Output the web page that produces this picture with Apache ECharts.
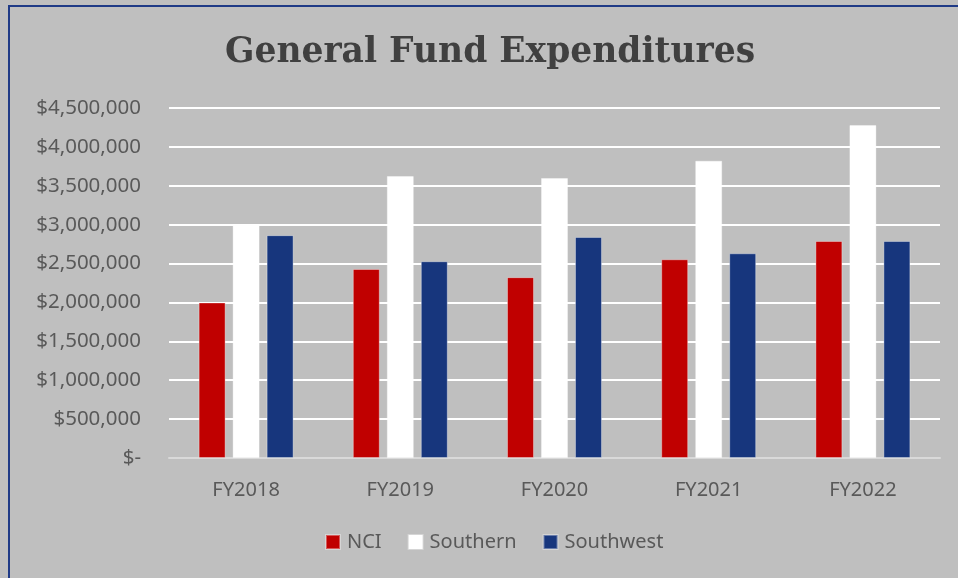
<!DOCTYPE html>
<html><head><meta charset="utf-8">
<script src="https://cdn.jsdelivr.net/npm/echarts@6/dist/echarts.min.js"></script>
<style>
html,body{margin:0;padding:0;background:#BFBFBF;}
#frame{position:absolute;left:8px;top:5px;width:960px;height:580px;border-left:2px solid #1F3A86;border-top:2px solid #1F3A86;box-sizing:border-box;}
#main{position:absolute;left:0;top:0;width:958px;height:578px;}
</style></head>
<body>
<div id="frame"></div>
<div id="main"></div>
<script>
const categories = ['FY2018','FY2019','FY2020','FY2021','FY2022'];
const seriesNames = ['NCI','Southern','Southwest'];
const nciValues = [2000000, 2430000, 2325000, 2555000, 2790000];
const southernValues = [3005000, 3625000, 3600000, 3822000, 4280000];
const southwestValues = [2865000, 2530000, 2842000, 2632000, 2790000];
const colors = ['#C00000', '#FFFFFF', '#17367D'];

function fmt(v){
  if (v === 0) return '$-';
  return '$' + v.toString().replace(/\B(?=(\d{3})+(?!\d))/g, ',');
}

const chart = echarts.init(document.getElementById('main'), null, {renderer:'canvas'});
const dataSets = [nciValues, southernValues, southwestValues];
chart.setOption({
  backgroundColor: 'transparent',
  animation: false,
  title: {
    text: 'General Fund Expenditures',
    left: 220, top: 31,
    textStyle: {fontFamily: 'DejaVu Serif', fontWeight: 'bold', fontSize: 34.5, color: '#404040'}
  },
  legend: {
    data: seriesNames,
    bottom: 21, left: 320,
    itemWidth: 14, itemHeight: 14, itemGap: 26,
    icon: 'rect',
    textStyle: {fontFamily: 'Noto Sans', fontSize: 20, color: '#595959', padding:[0,0,0,2]}
  },
  grid: {left: 169, right: 18, top: 108, bottom: 120, containLabel: false},
  xAxis: {
    type: 'category', data: categories,
    axisLine: {lineStyle: {color: '#D9D9D9', width: 2}},
    axisTick: {show: false},
    axisLabel: {fontFamily: 'Noto Sans', fontSize: 20, color: '#595959', margin: 22}
  },
  yAxis: {
    type: 'value', min: 0, max: 4500000, interval: 500000,
    axisLine: {show: false}, axisTick: {show: false},
    splitLine: {lineStyle: {color: '#FFFFFF', width: 2}},
    axisLabel: {fontFamily: 'Noto Sans', fontSize: 20.5, color: '#595959', margin: 28, formatter: fmt}
  },
  series: seriesNames.map((n, i) => ({
    name: n, type: 'bar', data: dataSets[i],
    barWidth: '17.5%', barGap: '26%',
    itemStyle: {color: colors[i], borderColor: 'rgba(255,255,255,0.35)', borderWidth: 1}
  }))
});
</script>
</body></html>
